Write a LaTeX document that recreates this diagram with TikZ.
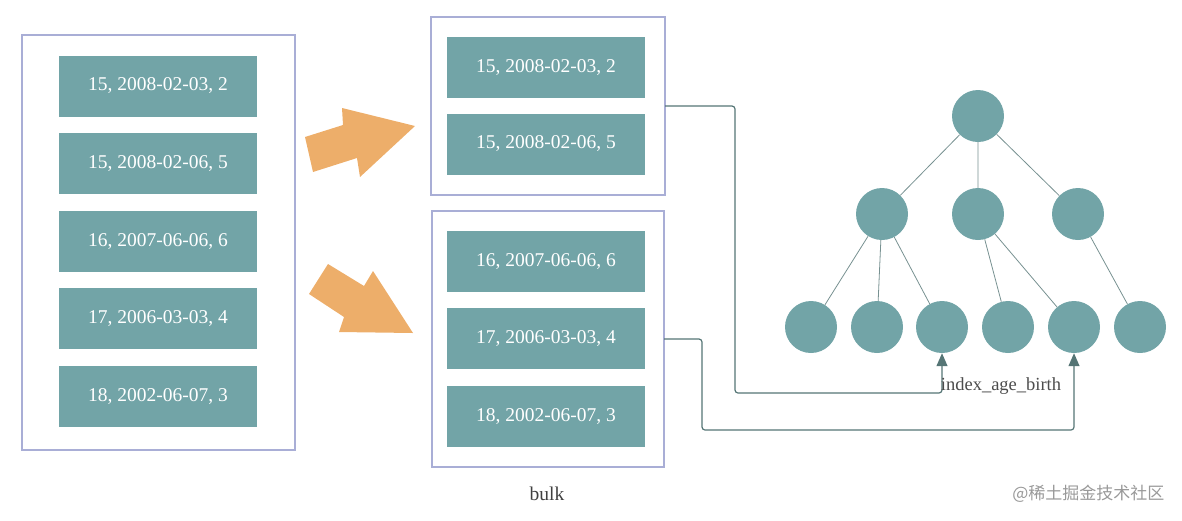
\documentclass[tikz,border=0pt]{standalone}
\usepackage{fontspec}
\setmainfont{Liberation Serif}
\newfontfamily\cjk{Noto Sans CJK SC}
\usetikzlibrary{arrows.meta}
\definecolor{teal1}{HTML}{72A4A7}
\definecolor{frame}{HTML}{A9AED6}
\definecolor{orng}{HTML}{EDAE6A}
\definecolor{conn}{HTML}{557575}
\begin{document}
\begin{tikzpicture}[x=1pt,y=-1pt,
  rec/.style={fill=teal1,draw=none,minimum width=198pt,minimum height=61pt,text=white,font=\fontsize{19.5}{22}\selectfont,inner sep=0},
  frm/.style={draw=frame,line width=1.2pt},
  nd/.style={circle,fill=teal1,draw=none,minimum size=52pt,inner sep=0},
  ed/.style={draw=conn!80,line width=0.8pt},
  cn/.style={draw=conn,line width=1.2pt,rounded corners=3pt,-{Triangle[length=13pt,width=11pt]}},
  arr/.style={fill=orng,draw=none}]
\useasboundingbox (0,0) rectangle (1182,520);
\draw[frm] (22,35) rectangle (295,450);
\node[rec] (a1) at (158,86) {15, 2008-02-03, 2};
\node[rec] (a2) at (158,163.5) {15, 2008-02-06, 5};
\node[rec] (a3) at (158,241.5) {16, 2007-06-06, 6};
\node[rec] (a4) at (158,318.5) {17, 2006-03-03, 4};
\node[rec] (a5) at (158,396.5) {18, 2002-06-07, 3};
\draw[frm] (431,17) rectangle (665,195);
\node[rec] (b1) at (546,67.5) {15, 2008-02-03, 2};
\node[rec] (b2) at (546,144) {15, 2008-02-06, 5};
\draw[frm] (432,211) rectangle (664,467);
\node[rec] (c1) at (546,261.5) {16, 2007-06-06, 6};
\node[rec] (c2) at (546,338.5) {17, 2006-03-03, 4};
\node[rec] (c3) at (546,416.5) {18, 2002-06-07, 3};
\node[font=\fontsize{19.5}{22}\selectfont,text=black!75] (bulk) at (547,494) {bulk};
\fill[arr] (305,137)--(343,125)--(342,108)--(415,126)--(360,177)--(357,158)--(313,172)--cycle;
\fill[arr] (309,294)--(328,264)--(364,286)--(373,271)--(413,333)--(339,332)--(344,317)--cycle;
\node[nd] (r) at (978,116) {};
\node[nd] (m1) at (882,214) {};
\node[nd] (m2) at (978,214) {};
\node[nd] (m3) at (1078,214) {};
\foreach \i/\x in {1/811,2/877,3/942,4/1008,5/1074,6/1140}{\node[nd] (l\i) at (\x,327) {};}
\draw[ed] (r)--(m1) (r)--(m2) (r)--(m3) (m1)--(l1) (m1)--(l2) (m1)--(l3) (m2)--(l4) (m2)--(l5) (m3)--(l6);
\coordinate (p1) at (665,106);
\coordinate (p2) at (664,339);
\draw[cn] (p1) -- (735,106) -- (735,393) -- (942,393) -- (l3.south);
\draw[cn] (p2) -- (702,339) -- (702,430) -- (1074,430) -- (l5.south);
\node[font=\fontsize{18.5}{20}\selectfont,text=black!70] (lbl) at (1001,386) {index\_age\_birth};
\node[font=\cjk\fontsize{17}{19}\selectfont,text=black!40,anchor=east] (wm) at (1168,494) {@稀土掘金技术社区};
\end{tikzpicture}
\end{document}
